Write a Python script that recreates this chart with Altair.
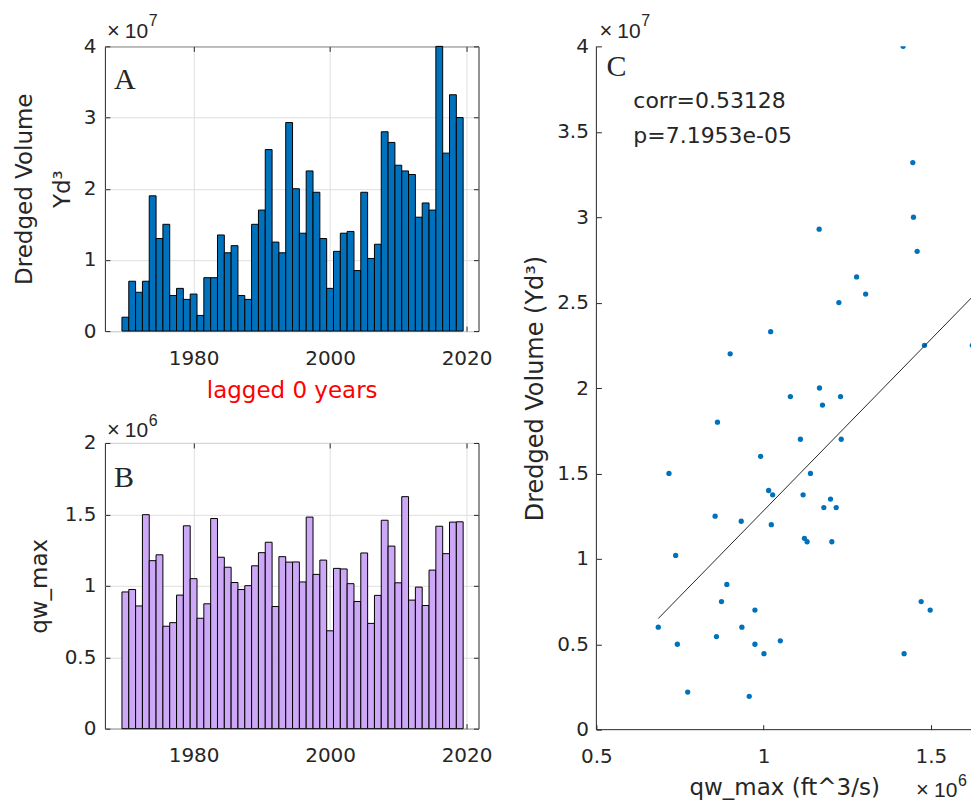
import altair as alt
import pandas as pd

# Annual series, 1970-2019
years = list(range(1970, 2020))

# Dredged volume (yd^3)
dredged_volume = [1.95e6, 7.0e6, 5.45e6, 7.0e6, 1.90e7, 1.30e7, 1.50e7, 5.0e6, 6.0e6, 4.45e6,
                  5.2e6, 2.2e6, 7.5e6, 7.5e6, 1.35e7, 1.10e7, 1.20e7, 5.0e6, 4.45e6, 1.50e7,
                  1.70e7, 2.55e7, 1.25e7, 1.10e7, 2.93e7, 2.00e7, 1.375e7, 2.25e7, 1.95e7, 1.30e7,
                  6.0e6, 1.12e7, 1.375e7, 1.40e7, 8.5e6, 1.95e7, 1.02e7, 1.22e7, 2.80e7, 2.65e7,
                  2.33e7, 2.25e7, 2.20e7, 1.60e7, 1.80e7, 1.70e7, 4.00e7, 2.50e7, 3.32e7, 3.00e7]

# Annual maximum water discharge (ft^3/s)
qw_max = [0.957e6, 0.974e6, 0.859e6, 1.498e6, 1.176e6, 1.217e6, 0.717e6, 0.742e6, 0.935e6, 1.420e6,
          1.050e6, 0.773e6, 0.874e6, 1.471e6, 1.200e6, 1.130e6, 1.023e6, 0.974e6, 1.001e6, 1.140e6,
          1.232e6, 1.305e6, 0.855e6, 1.204e6, 1.166e6, 1.167e6, 1.027e6, 1.481e6, 1.080e6, 1.180e6,
          0.685e6, 1.122e6, 1.118e6, 1.015e6, 0.890e6, 1.230e6, 0.737e6, 0.933e6, 1.459e6, 1.278e6,
          1.021e6, 1.624e6, 0.900e6, 0.991e6, 0.862e6, 1.110e6, 1.417e6, 1.225e6, 1.446e6, 1.448e6]

year_ticks = [1980, 2000, 2020]
volume_ticks_a = [0, 1e7, 2e7, 3e7, 4e7]
qw_ticks_b = [0, 5e5, 1e6, 1.5e6, 2e6]
volume_ticks_c = [0, 5e6, 1e7, 1.5e7, 2e7, 2.5e7, 3e7, 3.5e7, 4e7]
qw_ticks_c = [5e5, 1e6, 1.5e6]

corr_lines = ["corr=0.53128", "p=7.1953e-05"]

FONT = "DejaVu Sans"
EXP_FONT = "Liberation Sans"
SERIF = "Liberation Serif"
INK = "#262626"
GRID = "#DFDFDF"
BLUE = "#0072BD"
LILAC = "#CDA8F6"

LEFT_W = 374
A_H = 285
B_H = 286
C_W = 375
C_H = 684

df = pd.DataFrame({"year": years, "dredged": dredged_volume, "qw": qw_max})
one = pd.DataFrame({"k": [0]})


def inner_axis(values, expr, pad, grid, **extra):
    """MATLAB-style axis: ticks pointing into the plot, labels outside."""
    opts = dict(values=values, labelExpr=expr, labelFont=FONT, labelFontSize=20,
                labelColor=INK, labelPadding=pad, labelFlush=False, labelOverlap=False,
                tickSize=5, tickColor=INK, tickWidth=1, offset=-5, domain=False,
                grid=grid, gridColor=GRID, gridWidth=1,
                titleFont=FONT, titleFontWeight="normal", titleColor=INK)
    opts.update(extra)
    return alt.Axis(**opts)


def mirror_axis(values, orient):
    """Tick marks only, on the opposite side of the box."""
    return alt.Axis(values=values, orient=orient, labels=False, domain=False, grid=False,
                    tickSize=5, tickColor=INK, tickWidth=1, offset=-5, title=None)


def note(text, x, y, size, font=FONT, color=INK):
    return alt.Chart(pd.DataFrame({"label": [text]})).mark_text(
        align="left", baseline="alphabetic", font=font, fontSize=size, color=color
    ).encode(x=alt.value(x), y=alt.value(y), text="label:N")


def exponent(power, x, y, sup_dy):
    """Axis multiplier such as x10^7, drawn in three pieces."""
    return [
        note("×", x, y, 22, EXP_FONT),
        note("10", x + 18, y, 21, EXP_FONT),
        note(power, x + 42, y - sup_dy, 16, EXP_FONT),
    ]


year_scale = alt.Scale(domain=[1967, 2021.75], nice=False, zero=False)
frame = alt.ViewBackground(stroke=INK, strokeWidth=1)


def year_bars(field, color, y_scale, y_axis, x_axis):
    return alt.Chart(df).transform_calculate(
        left="datum.year - 0.5", right="datum.year + 0.5"
    ).mark_bar(fill=color, stroke="black", strokeWidth=1).encode(
        x=alt.X("left:Q", scale=year_scale, axis=x_axis),
        x2="right:Q",
        y=alt.Y(f"{field}:Q", scale=y_scale, axis=y_axis),
        y2=alt.datum(0),
    )


def box_ticks(y_values):
    return alt.Chart(one).mark_point(opacity=0).encode(
        x=alt.X(datum=year_ticks[0], type="quantitative", axis=mirror_axis(year_ticks, "top")),
        y=alt.Y(datum=0, type="quantitative", axis=mirror_axis(y_values, "right")),
    )


# --- A: dredged volume per year ---
bars_a = year_bars(
    "dredged", BLUE, alt.Scale(domain=[0, 4e7], nice=False),
    inner_axis(volume_ticks_a, "datum.value / 1e7", 9, True,
               title=["Dredged Volume", "Yd³"], titleFontSize=23,
               titleLineHeight=38, titleX=-78, titleY=142.5,
               titleAngle=270, titleAlign="center", titleBaseline="alphabetic"),
    inner_axis(year_ticks, "datum.value", 17, True,
               title="lagged 0 years", titleColor="red", titleFontSize=23,
               titleX=187, titleY=71, titleAlign="center", titleBaseline="alphabetic"),
)

chart_a = alt.layer(
    bars_a,
    box_ticks(volume_ticks_a),
    note("A", 9, 43, 30, SERIF),
    *exponent("7", 2, -8, 12),
).resolve_axis(x="independent", y="independent").properties(
    width=LEFT_W, height=A_H, view=frame)

# --- B: annual maximum discharge ---
bars_b = year_bars(
    "qw", LILAC, alt.Scale(domain=[0, 2e6], nice=False),
    inner_axis(qw_ticks_b, "datum.value / 1e6", 9, True,
               title="qw_max", titleFontSize=23, titleX=-63, titleY=143,
               titleAngle=270, titleAlign="center", titleBaseline="alphabetic"),
    inner_axis(year_ticks, "datum.value", 17, True, title=None),
)

chart_b = alt.layer(
    bars_b,
    box_ticks(qw_ticks_b),
    note("B", 9, 44, 30, SERIF),
    *exponent("6", 2, -6, 11),
).resolve_axis(x="independent", y="independent").properties(
    width=LEFT_W, height=B_H, view=frame)

# --- C: dredged volume against discharge with a linear fit ---
axis_line_y = alt.Chart(one).mark_rule(color=INK, strokeWidth=1).encode(x=alt.datum(qw_ticks_c[0]))
axis_line_x = alt.Chart(one).mark_rule(color=INK, strokeWidth=1).encode(y=alt.datum(0))

points = alt.Chart(df).mark_circle(size=28, color=BLUE, opacity=1, clip=True).encode(
    x=alt.X("qw:Q", scale=alt.Scale(domain=[5e5, 1.62e6], nice=False, zero=False),
            axis=inner_axis(qw_ticks_c, "datum.value / 1e6", 17, False,
                            title="qw_max (ft^3/s)", titleFontSize=23, titleX=188, titleY=70,
                            titleAlign="center", titleBaseline="alphabetic")),
    y=alt.Y("dredged:Q", scale=alt.Scale(domain=[0, 4e7], nice=False),
            axis=inner_axis(volume_ticks_c, "datum.value / 1e7", 8, False,
                            title="Dredged Volume (Yd³)", titleFontSize=24, titleX=-59,
                            titleY=342, titleAngle=270, titleAlign="center",
                            titleBaseline="alphabetic")),
)

fit = alt.Chart(df).transform_regression("qw", "dredged").mark_line(
    color=INK, strokeWidth=1, clip=True
).encode(x="qw:Q", y="dredged:Q")

chart_c = alt.layer(
    axis_line_y,
    axis_line_x,
    points,
    fit,
    note("C", 10, 30, 30, SERIF),
    note(corr_lines[0], 37, 62, 22),
    note(corr_lines[1], 37, 97, 22),
    *exponent("7", 3, -8, 12),
    *exponent("6", 320, C_H + 67, 11),
).properties(width=C_W, height=C_H)

left_col = alt.vconcat(chart_a, chart_b, spacing=112, bounds="flush")

chart = alt.hconcat(left_col, chart_c, spacing=31).properties(
    padding={"left": 13, "top": 12, "right": 0, "bottom": 0},
    background="white",
).configure_view(strokeWidth=0)

chart.save("out.html", embed_options={"renderer": "svg", "actions": False})
